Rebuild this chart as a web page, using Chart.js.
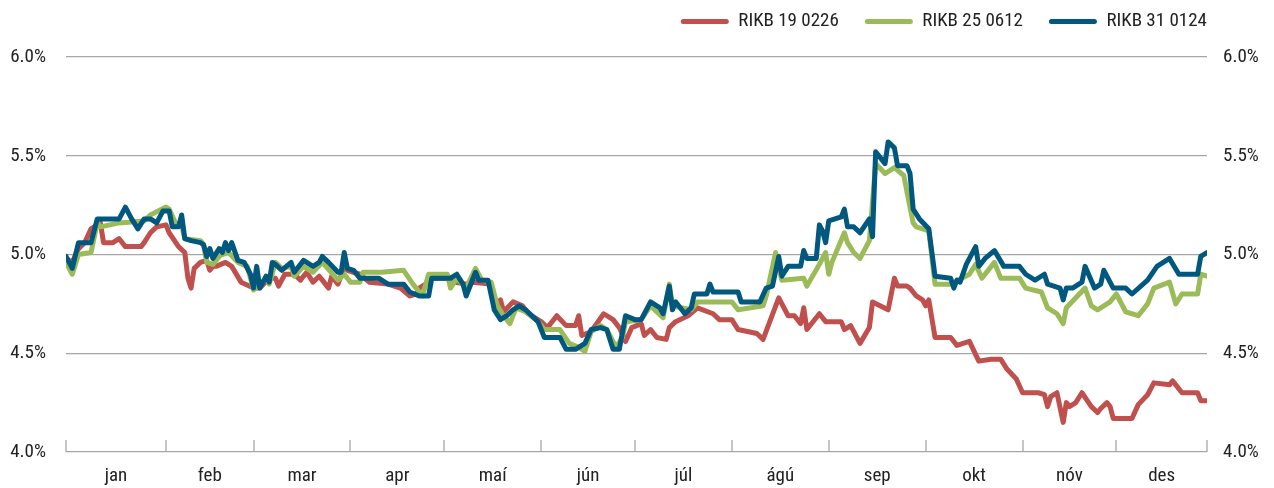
<!DOCTYPE html>
<html><head><meta charset="utf-8">
<script src="https://cdn.jsdelivr.net/npm/chart.js@4/dist/chart.umd.min.js"></script>
<style>html,body{margin:0;padding:0;background:#fff;}</style>
</head><body>
<canvas id="c" width="1274" height="488"></canvas>
<script>
// ---- data ----
const monthLabels = ['jan','feb','mar','apr','maí','jún','júl','ágú','sep','okt','nóv','des'];
const monthStarts = [0,32,60,91,121,152,182,213,244,275,306,336,365];
const yTicks = [4.0,4.5,5.0,5.5,6.0];
const seriesNames = ['RIKB 19 0226','RIKB 25 0612','RIKB 31 0124'];

const redDays = [0,2,4,6,8,11,12,15,17,19,24,25,27,29,32,33,36,38,39,40,41,43,45,46,47,48,51,53,56,60,62,65,67,68,70,73,75,77,79,81,82,84,85,87,89,90,94,97,103,107,110,112,113,115,117,123,124,128,130,136,137,139,140,143,146,148,152,154,157,160,163,164,165,168,172,175,177,179,181,184,185,187,189,192,193,195,199,202,207,209,213,215,221,223,228,231,233,235,236,237,241,243,248,249,251,254,257,258,263,265,266,269,270,272,274,275,276,278,280,283,285,289,292,296,299,301,304,306,311,313,314,315,317,319,320,321,323,325,328,330,331,333,334,335,341,343,346,348,353,354,357,362,363,365];
const redVals = [4.98,4.96,5.03,5.06,5.13,5.16,5.06,5.06,5.08,5.04,5.04,5.06,5.11,5.14,5.15,5.11,5.04,5.01,4.88,4.83,4.93,4.96,4.97,4.92,4.94,4.94,4.96,4.94,4.86,4.83,4.83,4.88,4.88,4.84,4.90,4.90,4.87,4.91,4.86,4.89,4.87,4.83,4.89,4.85,4.94,4.92,4.90,4.86,4.85,4.83,4.79,4.80,4.83,4.85,4.88,4.88,4.86,4.85,4.86,4.85,4.74,4.77,4.71,4.76,4.74,4.70,4.66,4.63,4.69,4.64,4.64,4.69,4.59,4.61,4.70,4.67,4.63,4.56,4.63,4.65,4.59,4.62,4.58,4.57,4.63,4.66,4.69,4.73,4.70,4.67,4.67,4.62,4.60,4.57,4.78,4.69,4.69,4.65,4.73,4.62,4.70,4.66,4.66,4.62,4.64,4.55,4.63,4.76,4.72,4.88,4.84,4.84,4.83,4.79,4.77,4.74,4.77,4.58,4.58,4.58,4.54,4.56,4.46,4.47,4.47,4.42,4.37,4.30,4.30,4.29,4.23,4.28,4.30,4.15,4.25,4.23,4.25,4.30,4.23,4.20,4.22,4.25,4.23,4.17,4.17,4.24,4.29,4.35,4.34,4.36,4.30,4.30,4.26,4.26];

const greenDays = [0,2,4,8,10,11,17,25,27,32,33,35,37,38,43,44,45,47,49,50,52,55,58,60,62,64,65,67,69,72,73,76,79,82,87,89,91,94,95,101,108,111,114,116,122,123,125,128,131,133,136,138,140,142,144,147,151,153,158,161,164,166,168,171,173,176,178,179,184,187,191,193,194,200,202,213,215,223,224,227,229,236,237,241,243,244,245,249,250,252,254,257,259,262,265,268,271,272,276,278,283,289,291,293,297,299,305,307,312,314,317,319,320,326,328,330,334,336,339,343,346,348,353,355,357,362,363,365];
const greenVals = [4.96,4.90,5.00,5.01,5.16,5.14,5.16,5.17,5.20,5.24,5.23,5.16,5.15,5.08,5.07,5.05,4.96,4.95,4.99,5.00,5.01,4.96,4.94,4.82,4.85,4.88,4.85,4.96,4.93,4.94,4.89,4.94,4.91,4.96,4.87,4.90,4.86,4.86,4.91,4.91,4.92,4.85,4.79,4.90,4.90,4.83,4.88,4.83,4.93,4.87,4.86,4.74,4.69,4.65,4.73,4.71,4.66,4.62,4.62,4.55,4.53,4.51,4.61,4.64,4.62,4.53,4.58,4.66,4.67,4.74,4.68,4.85,4.74,4.72,4.76,4.76,4.72,4.74,4.79,5.01,4.87,4.88,4.84,4.95,5.01,4.90,4.96,5.11,5.06,5.01,4.98,5.07,5.46,5.41,5.44,5.40,5.16,5.14,5.12,4.85,4.85,4.90,4.95,4.88,4.96,4.88,4.88,4.83,4.81,4.73,4.70,4.65,4.73,4.83,4.74,4.72,4.76,4.80,4.71,4.69,4.75,4.83,4.86,4.75,4.80,4.80,4.90,4.89];

const blueDays = [0,2,4,8,10,17,19,21,23,25,27,29,31,33,34,36,37,38,40,43,44,45,46,47,49,50,51,52,53,55,57,59,60,61,62,64,65,66,67,69,72,73,76,79,81,82,84,87,88,89,90,92,94,100,103,108,110,113,116,117,123,125,127,128,131,132,135,137,139,141,143,145,147,151,153,158,160,163,166,168,171,173,175,177,179,182,184,187,190,191,193,194,195,198,200,201,205,206,207,215,216,222,224,226,228,229,231,235,236,237,240,241,242,243,244,248,249,250,252,254,257,258,259,262,263,265,266,269,270,271,273,276,278,283,284,285,286,288,291,292,294,297,300,305,307,310,313,314,318,319,320,322,325,326,329,331,332,335,339,341,346,349,353,356,362,363,365];
const blueVals = [4.99,4.93,5.06,5.06,5.18,5.18,5.24,5.18,5.13,5.18,5.18,5.16,5.22,5.22,5.14,5.14,5.20,5.08,5.07,5.06,5.05,4.99,5.03,4.98,5.03,5.01,5.06,5.02,5.06,4.97,4.96,4.90,4.83,4.94,4.83,4.89,4.86,4.96,4.95,4.92,4.96,4.91,4.97,4.94,4.96,4.99,4.96,4.91,4.91,5.01,4.93,4.92,4.88,4.88,4.85,4.85,4.81,4.79,4.79,4.88,4.88,4.90,4.85,4.79,4.91,4.87,4.87,4.72,4.67,4.69,4.72,4.74,4.72,4.66,4.58,4.58,4.52,4.52,4.55,4.62,4.63,4.62,4.52,4.52,4.69,4.67,4.67,4.76,4.73,4.70,4.84,4.72,4.76,4.70,4.73,4.80,4.80,4.85,4.81,4.81,4.76,4.76,4.83,4.84,4.99,4.89,4.94,4.94,5.02,4.98,4.98,5.15,5.12,5.06,5.17,5.19,5.23,5.14,5.14,5.11,5.18,5.09,5.52,5.46,5.57,5.54,5.45,5.45,5.41,5.23,5.18,5.13,4.89,4.88,4.83,4.87,4.86,4.95,5.04,4.94,4.98,5.02,4.94,4.94,4.90,4.87,4.90,4.85,4.83,4.77,4.83,4.83,4.86,4.94,4.83,4.85,4.92,4.83,4.83,4.80,4.87,4.94,4.98,4.90,4.90,4.99,5.01];

// ---- styling ----
const colors = ['#C0504D','#9BBB59','#00587F'];
const gridColor = '#a6a6a6';
const textColor = '#222222';
const fontFamily = "'Roboto Condensed','DejaVu Sans Condensed',sans-serif";
const fontSize = 19;

const monthMids = monthStarts.slice(0,-1).map((s,i)=> (s + monthStarts[i+1]) / 2);
const toPoints = (days, vals) => days.map((d,i)=>({x:d, y:vals[i]}));

Chart.defaults.font.family = fontFamily;
Chart.defaults.font.size = fontSize;
Chart.defaults.color = textColor;

const monthTicks = {
  id: 'monthTicks',
  beforeDatasetsDraw(chart) {
    const xs = chart.scales.x, ys = chart.scales.y, ctx = chart.ctx;
    const yb = ys.getPixelForValue(yTicks[0]);
    ctx.save();
    ctx.strokeStyle = gridColor; ctx.lineWidth = 1.3;
    monthStarts.forEach(d => {
      const px = Math.round(xs.getPixelForValue(d));
      ctx.beginPath(); ctx.moveTo(px, yb); ctx.lineTo(px, yb - 12); ctx.stroke();
    });
    ctx.restore();
  }
};
const legendShift = {
  id: 'legendShift',
  afterLayout(chart) {
    const l = chart.legend; if (!l) return;
    l.left += 26; l.right += 26; l.top -= 16; l.bottom -= 16;
  }
};

const mk = (i, days, vals, order) => ({
  label: seriesNames[i], data: toPoints(days, vals),
  borderColor: colors[i], backgroundColor: colors[i], borderWidth: 5,
  pointRadius: 0, tension: 0, borderJoinStyle: 'round', borderCapStyle: 'round',
  order: order, yAxisID: 'y'
});

new Chart(document.getElementById('c'), {
  type: 'line',
  data: { datasets: [ mk(0, redDays, redVals, 2), mk(1, greenDays, greenVals, 1), mk(2, blueDays, blueVals, 0) ] },
  options: {
    responsive: false, animation: false,
    layout: { padding: { top: 2, left: 0, right: 0, bottom: 0 } },
    plugins: {
      tooltip: { enabled: false },
      legend: {
        position: 'top', align: 'end', fullSize: false,
        labels: {
          boxWidth: 48, boxHeight: 5, padding: 26, color: textColor,
          useBorderRadius: true, borderRadius: 2.5,
          font: { size: fontSize, family: fontFamily },
          sort: (a, b) => a.datasetIndex - b.datasetIndex,
          generateLabels(chart) {
            const items = Chart.defaults.plugins.legend.labels.generateLabels(chart);
            items.forEach(it => { it.lineWidth = 0; it.fillStyle = it.strokeStyle; });
            return items;
          }
        }
      }
    },
    scales: {
      x: {
        type: 'linear', position: 'bottom', min: monthStarts[0], max: monthStarts[monthStarts.length-1],
        afterBuildTicks: s => { s.ticks = monthMids.map(v => ({ value: v })); },
        afterFit: s => { s.height = 36; s.paddingLeft = 0; s.paddingRight = 0; },
        ticks: { autoSkip: false, maxRotation: 0, padding: 13, callback: (v, i) => monthLabels[i] },
        grid: { display: false, drawTicks: false },
        border: { display: false }
      },
      y: {
        position: 'left', min: yTicks[0], max: yTicks[yTicks.length-1],
        afterBuildTicks: s => { s.ticks = yTicks.map(v => ({ value: v })); },
        afterFit: s => { s.width = 66; },
        ticks: { padding: 20, callback: v => v.toFixed(1) + '%' },
        grid: { color: gridColor, lineWidth: 1.3, drawTicks: false },
        border: { display: false }
      },
      y2: {
        position: 'right', min: yTicks[0], max: yTicks[yTicks.length-1],
        afterBuildTicks: s => { s.ticks = yTicks.map(v => ({ value: v })); },
        afterFit: s => { s.width = 67; },
        ticks: { padding: 16, callback: v => v.toFixed(1) + '%' },
        grid: { display: false, drawTicks: false },
        border: { display: false }
      }
    }
  },
  plugins: [monthTicks, legendShift]
});
</script>
</body></html>
